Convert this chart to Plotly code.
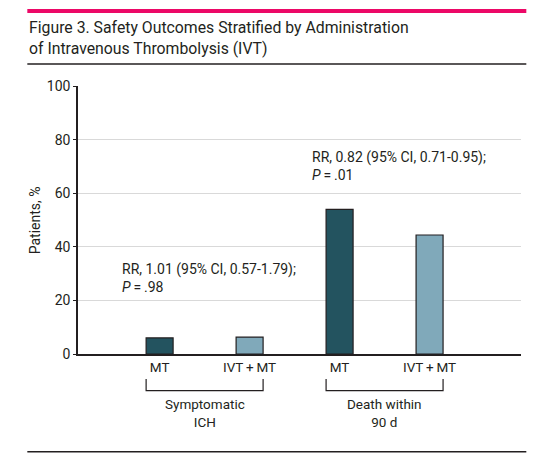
import plotly.graph_objects as go

# bar data
bar_labels = ["MT", "IVT\u2009+\u2009MT", "MT", "IVT\u2009+\u2009MT"]
patients_pct = [6.0, 6.3, 54.0, 44.4]
bar_colors = ["#23535f", "#80a9ba", "#23535f", "#80a9ba"]

groups = ["Symptomatic<br>ICH", "Death within<br>90 d"]
group_notes = ["RR, 1.01 (95% CI, 0.57-1.79);<br><i>P</i>\u2009=\u2009.98",
               "RR, 0.82 (95% CI, 0.71-0.95);<br><i>P</i>\u2009=\u2009.01"]

y_ticks = [0, 20, 40, 60, 80, 100]

FONT = "Roboto, sans-serif"
INK = "#231f20"

xpos = list(range(len(patients_pct)))

fig = go.Figure()
fig.add_trace(go.Bar(x=xpos, y=patients_pct, width=0.3,
                     marker=dict(color=bar_colors, line=dict(color=INK, width=1.2)),
                     showlegend=False, hoverinfo="y"))

# brackets + group labels under the axis
for g, name in enumerate(groups):
    x0 = 2 * g - 0.15
    x1 = 2 * g + 1 + 0.15
    fig.add_shape(type="path", xref="x", yref="paper",
                  path=f"M {x0},-0.093 L {x0},-0.137 L {x1},-0.137 L {x1},-0.093",
                  line=dict(color=INK, width=1.2))
    fig.add_annotation(x=2 * g + 0.5, y=-0.222, xref="x", yref="paper", text=name,
                       showarrow=False, font=dict(family=FONT, size=13.5, color=INK),
                       xanchor="center", yanchor="middle")

# RR notes
note_pos = [(-0.437, 28.4), (1.674, 70.2)]
for (nx, ny), txt in zip(note_pos, group_notes):
    fig.add_annotation(x=nx, y=ny, xref="x", yref="y", text=txt, showarrow=False,
                       align="left", xanchor="left", yanchor="middle",
                       font=dict(family=FONT, size=14, color=INK))

# y title
fig.add_annotation(x=-0.0964, y=0.5, xref="paper", yref="paper", text="Patients, %",
                   textangle=-90, showarrow=False, xanchor="center", yanchor="middle",
                   font=dict(family=FONT, size=14, color=INK))

# title as annotation
fig.add_annotation(x=-0.1144, y=1.2612, xref="paper", yref="paper",
                   text="Figure 3. Safety Outcomes Stratified by Administration<br>of Intravenous Thrombolysis (IVT)",
                   showarrow=False, align="left", xanchor="left", yanchor="top",
                   font=dict(family=FONT, size=15.8, color=INK))

# decorative rules: pink top band, rule below title, bottom rule
fig.add_shape(type="rect", xref="paper", yref="paper", x0=-0.1144, x1=1.012,
              y0=1.272, y1=1.287, fillcolor="#ec0867", line=dict(width=0))
fig.add_shape(type="line", xref="paper", yref="paper", x0=-0.1144, x1=1.012,
              y0=1.082, y1=1.082, line=dict(color=INK, width=1.5))
fig.add_shape(type="line", xref="paper", yref="paper", x0=-0.1144, x1=1.012,
              y0=-0.3646, y1=-0.3646, line=dict(color=INK, width=1.5))

fig.update_layout(
    width=543, height=460,
    margin=dict(l=77.7, r=22.3, t=86, b=106),
    paper_bgcolor="white", plot_bgcolor="white",
    font=dict(family=FONT, color=INK),
)

fig.update_xaxes(range=[-0.907, 4.016], tickvals=xpos, ticktext=bar_labels,
                 showline=True, linecolor=INK, linewidth=1.5, ticks="",
                 showgrid=False, zeroline=False, fixedrange=True,
                 tickfont=dict(family=FONT, size=13.5, color=INK))
fig.update_yaxes(range=[0, 100], tickvals=y_ticks, showline=True, linecolor=INK,
                 linewidth=1.5, ticks="outside", ticklen=3, tickcolor=INK,
                 showgrid=True, gridcolor="#d9d9d9", gridwidth=1, zeroline=False,
                 tickfont=dict(family=FONT, size=14, color=INK), fixedrange=True)

fig.write_html("out.html", config={"displayModeBar": False},
               post_script="document.body.style.margin='0';")
